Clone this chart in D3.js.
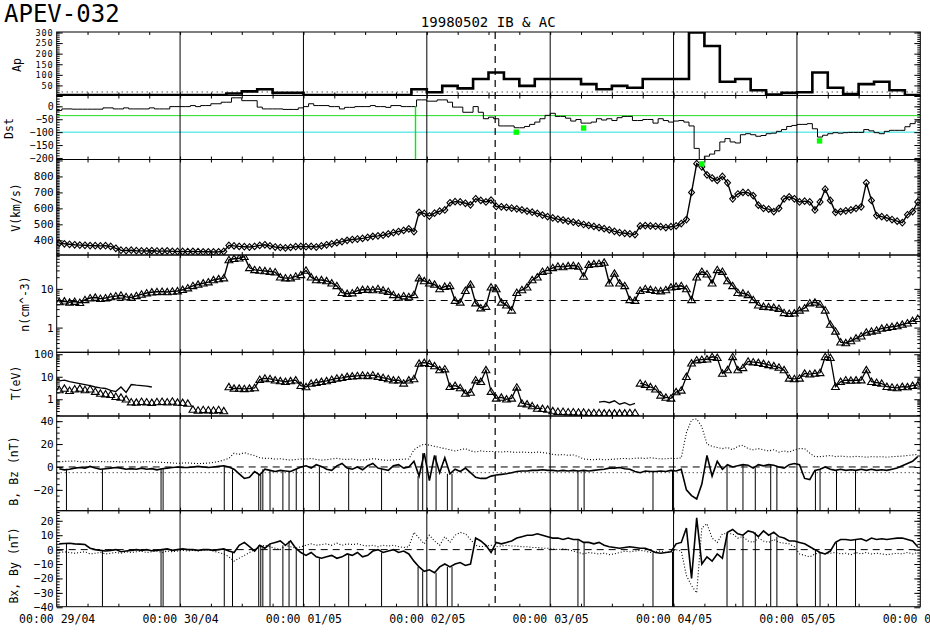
<!DOCTYPE html>
<html><head><meta charset="utf-8">
<script src="https://cdn.jsdelivr.net/npm/d3@7"></script>
<style>body{margin:0;background:#fff}svg{display:block}</style>
</head><body><svg id="c" width="930" height="640"></svg>
<script>
// ---------------- DATA ----------------
const dayLabels = ["29/04","30/04","01/05","02/05","03/05","04/05","05/05","06/05"];
// Ap, 3-hourly (56 values)
const apValues = [4,4,4,5,4,4,4,4,5,4,4, 12,22,32,15,15, 5,5,4,5,5,4,5,
  32,18,48,36,80,111,80,48,80,80,80,56,32,48,39,80,80,80,300,236,67,80,27,7,15,18,111,39,9,56,67,27,5];
const apRef = 19;
// Dst, hourly (168 values)
const dstValues = [
-16,-10,-10,-11,-11,-11,-11,-11,-11,-6, -6,-10,-10,-6,-10,-10,-10,-10,-6,-10,
-10,-10,-1,-1,-1,-1,3,-1,3,3, 10,10,16,16,33,33,22,22,22,-3,
-10,-10,-10,-10,-12,-12,-12,-6,-1,10, 3,3,3,-1,-1,-10,-4,-4,-1,-1,
-1,3,-1,-1,-4,3,3,-1,-1,-1, 25,25,20,20,25,25,16,-3,-3,-23,
-23,-1,-23,-48,-42,-48,-76,-76,-76,-83, -83,-78,-70,-61,-48,-35,-27,-39,-39,-46,
-57,-51,-65,-65,-61,-48,-53,-48,-55,-44, -39,-39,-55,-55,-51,-51,-65,-48,-55,-61,
-57,-55,-61,-76,-163,-220,-193,-185,-172,-138, -125,-138,-142,-110,-106,-110,-116,-113,-106,-104,
-97,-90,-78,-74,-70,-70,-67,-87,-119,-112, -106,-102,-104,-102,-101,-101,-101,-90,-95,-102,
-106,-97,-93,-93,-93,-79,-67,-57];
const dstLevels = [-36, -100];
const dstMinTimes = [89.4, 102.5, 125.5, 148.4];
const dstMinValues = [-100, -84, -223, -134];
const eventTime = 69.8;      // green vertical line
const markerTime = 85.3;     // dashed vertical line
// Solar wind speed, hourly
const vValues = [
382,378,375,372,370,369,367,366,365,366, 362,350,338,336,338,335,334,333,335,333,
332,334,331,330,330,329,331,329,328,328, 327,328,330,368,365,362,360,358,362,368,
372,365,358,355,352,356,360,362,360,362, 358,365,372,378,385,392,400,405,408,412,
418,425,428,432,440,448,455,462,472,455, 575,568,552,570,582,590,635,642,640,632,
622,660,650,640,652,612,610,606,602,597, 590,583,576,568,558,548,540,533,527,520,
514,507,499,493,487,480,473,465,456,448, 444,440,436,490,492,490,488,485,480,485,
490,505,530,700,880,860,810,790,775,800, 760,660,690,700,698,680,620,600,595,580,
600,660,672,660,640,645,640,590,640,720, 650,575,580,585,590,600,610,760,650,555,
548,540,530,520,510,560,580,640];
// Density, hourly
const nValues = [
4.6,4.8,4.5,4.7,4.4,5.2,5.8,6.0,5.6,5.8, 6.2,6.5,6.8,6.2,6.0,6.6,7.2,7.8,8.2,8.4,
8.5,8.3,8.6,8.8,9.5,10.5,12,13,14,15, 17,18,19,56,60,62,68,35,31,30,
29,28,27,20,19,19,21,23,30,20, 17,17,16,14,12,8,7.5,7.8,9,9.5,
9.6,9.4,10,9.2,8.5,7,6,6.5,6.2,7, 19,16,14,13,10,11.5,12,5,4.5,9,
13,4.3,3.2,3.5,11,10,4.5,3.8,2.8,8, 9.4,11,17,20,28,30,35,38,37,39,
40,38,21,42,44,45,48,14,25,14, 12,5.2,5.0,9,10,9.5,9,8.8,9.4,11,
11.5,12,10,5.2,20,28,24,14,31,28, 16,12,8,7.7,7,5.2,3.8,3.5,3.4,3.3,
3.1,2.4,2.3,2.35,2.8,3.2,4.3,4.5,4.0,2.8, 1.2,0.8,0.42,0.40,0.45,0.53,0.6,0.75,0.8,0.85,
0.95,1.0,1.05,1.1,1.2,1.3,1.5,1.7];
const nRef = 5;
// Temperature, hourly (triangles)
const tValues = [
2.6,3.0,2.4,2.8,3.0,2.6,2.8,2.2,1.8,1.7, 1.6,1.3,1.2,1.0,0.75,0.72,0.78,0.75,0.7,0.76,
0.78,0.74,0.8,0.72,0.7,0.65,0.35,0.32,0.34,0.33, 0.32,0.34,0.3,3.5,3.0,3.0,2.9,3.0,3.2,7.5,
8.5,8.0,7.0,6.5,6.0,6.5,7.0,4.0,3.5,5.0, 5.5,6.0,6.5,7.5,8.5,9.0,10,10.5,11,11.5,
11,11.8,10,9,8,7,7.1,5.1,7,8, 39,42,38,30,20,22,3.6,4,3.2,1.8,
2.0,7.1,6,20,2.2,1.1,1.2,1.0,1.1,3.4, 0.66,0.6,0.5,0.39,0.38,0.35,0.3,0.28,0.28,0.27,
0.27,0.26,0.26,0.25,0.25,0.25,0.24,0.24,0.24,0.24, 0.24,0.25,0.25,5.1,4.5,3.5,2.8,1.5,1.2,1.1,
2.1,2.5,10,40,55,58,60,77,70,14, 20,77,20,25,48,45,42,38,34,30,
26,20,8.5,8,8.5,14,13,14,15,77, 70,3.6,6,7.1,6.8,7,7.1,20,6,5.5,
5,3.6,3.4,3.2,3.6,3.5,4,4.2];
// second (line) temperature where it differs from triangles
const tLineEarly = [6.5,7.0,6.0,5.5,5.0,4.5,4.0,3.5,3.2,3.0,2.5,2.2,3.5,2.0,4.5,4.2,4.0,3.8,3.5]; // h0..h18
const tLineFragStart = 105;
const tLineFrag = [0.75,0.8,0.7,0.85,0.6,0.7,0.55,0.65]; // h105..h112
const tLineSpans = [[33,94],[113,167]];
// Magnetic field, hourly
const bValues = [
4.5,4.8,5.0,5.2,4.6,4.4,4.8,5.0,4.7,4.5, 4.6,4.8,4.2,4.5,4.6,4.3,4.4,4.6,4.5,4.2,
4.0,3.8,3.5,3.2,3.4,3.6,3.2,3.0,3.1,3.4, 4.0,4.8,6.0,7.5,12,11,12.5,11,10,8,
7.5,7.6,6.8,7.2,6.5,6.0,6.5,7.0,6.8,7.5, 6.5,6.0,6.3,7.0,7.5,6.8,6.5,7.0,6.2,6.0,
6.5,7.2,6.8,6.0,5.8,6.2,6.5,6.8,7.0,15, 18,20,19,18,17,16,15,14,15,16,
14,13,14,13.5,13.5,13.5,13,13.5,13,12.8, 13,12.8,12.5,13,12.6,12,11,10.5,10.8,10.2,
10.5,9,7,6.5,6.3,6.8,6.2,6.5,6.8,7.2, 7.5,7.0,7.6,7.8,7.4,8.0,7.5,7.0,7.2,7.5,
7.3,8,30,41,42,35,20,18,17,16, 17,15,18,19,16,15,16,15,14,15,
13,14,13,15,16,16,12,9,9,9.5, 10,9,9.5,9,8.8,9.2,9,8.5,9,8.8,
9,8.5,9,9.2,9.5,10,10.5,11];
const bzValues = [
-1.5,-2.5,-2,-1,-0.5,-1,0.5,-1,-2,-1.5, -1,-0.5,-1,-2,-1.5,-2,-1,-2,-1.5,-2.5,
-1.5,-1,-0.5,0,-0.5,-0.5,0,0.5,0,-0.5, 0,0.5,1,0,-2,-6,-10,-9,-4,-7,
-2,-3,-4,-3,-3.5,-4,-2,0,1,-1, 2,0.5,-2,-3,1,3,-1,-2,0,-2.5,
1,3,-1,-2,-3,1,2,-1,0,5, -8,12,-12,10,-5,8,-6,-2,-4,-1,
-5,-9,-10,-10,-8,-7,-6.5,-6,-5,-4, -3.5,-3.5,-3,-3,-2.5,-3,-3,-3.5,-3,-3.5,
-3,-3.5,-3,-3.5,-3,-2.5,-2,-1,-1,-0.5, -1.5,-2,-4,-5,-3.5,-4,-4,-3.5,-4,-3,
-3.5,-2,-20,-25,-28,-15,10,-8,5,-2, 2,0,1,2,1.5,-1,2,1,2,1.5,
0,-1,2,3,2,-10,-11,-3,-2,0, -2,-3,-2,-3,-2.5,-3,-2,-3,-2,-3,
-2.5,-3,-2,-1,1,3,5,9];
const bxValues = [
4,4.2,4.4,4,3.8,3.5,1,0,-0.5,-1, -0.5,0,-1.5,-1,-0.5,0,-0.5,0,-0.8,-0.5,
0,0.5,-0.5,0,0.5,0,0,-0.5,0,0, -0.5,0,0.5,-1,-2,3,5,2,-1,3,
1,4,5,6,3,6,1,-2,-4,-2, -5,-6,-5,-4,-6,-5,-3,-4,-2,-5,
-4,-1,0,-2,-1,0,-2,-1,-3,-8, -12,-15,-14,-16,-12,-10,-12,-10,-9,-11,
-10,8,6,3,-2,5,4,5,6,8, 9,10,10,11,10,9,8,8,7,8,
7,7,5,5,4,5,3,2,1.5,1, 1.5,2,1.5,1,1,-0.5,-2,-2.5,-2,-1.5,
4,5,15,-20,22,-10,-5,-8,-3,-6, 12,14,11,10,13,12,9,13,10,12,
9,8,6,6,5,4,2,0,-2,-3, -1,5,7,7,6.5,7,7.5,6,8,7,
7.5,7,7.5,8,8,7,6,2];
const byValues = [
-2,-1.5,-2,-2.5,-2,-1.5,-3,-2.5,-2,-3, -2.5,-2,-2.5,-1.5,-2,-1.5,-1,-2,-1.5,-1,
-2,-1,-1.5,-1,-0.5,-1,-0.5,-1,-0.5,0, -1,-2,-3,-5,-8,-6,-4,-2,0,2,
3,2,1,0,3,2,1,2,3,4, 3,3.5,4,3,4.5,3,4,3.5,4,3,
2.5,3,2,3,2.5,3,2,1.5,2,12, 8,4,10,6,3,9,5,10,12,11,
7,3,2,2.5,3,2,2.5,3,2.5,2.5, 2,2,1.5,1.5,1,1,0.5,0,0.5,0,
-1,-2,-3,-2,-2.5,-3,-2.5,-3.5,-3,-2, -1,-1.5,-1,-0.5,-1,-2,-1.5,-1,-2,-1.5,
0,-1,-18,-25,-30,15,18,8,5,11, 11,11,8,9,6,5,8,6,5,7,
5,4.5,4,2,-3,-4,-5,-3,-2,-3, -2.5,-2,-3,-2.5,-3.5,-2,-3,-2,-3,-2.5,
-3,-3.5,-3,-2.5,-3,-2,-3,-2];
const bRefLevels = [0, -5];
// times (hours) of data-gap spikes in the field panels
const gapTimes = [1.9,8.9,20.3,20.7,32.6,34.2,39.3,39.7,40.1,41.5,44.0,45.2,46.6,51.1,56.8,63.2,
  70.3,71.2,73.8,76.0,76.9,101.4,102.6,116.0,119.8,130.4,133.5,135.9,138.9,140.1,147.6,148.5,151.7,155.4];

// ---------------- CHART ----------------
const svg = d3.select('#c');
const MONO = "'DejaVu Sans Mono', monospace";
const X0 = 56.7, X1 = 920.3;
const x = d3.scaleLinear().domain([0,168]).range([X0,X1]);

const P = {
  ap:  {top:32,    bot:95.5},
  dst: {top:95.5,  bot:159.5},
  v:   {top:159.5, bot:255},
  n:   {top:255,   bot:352.3},
  t:   {top:352.3, bot:416},
  b:   {top:416,   bot:510.7},
  bxy: {top:510.7, bot:606.7}
};
const yAp  = d3.scaleLinear().domain([0,300]).range([96,32.5]);
const yDst = d3.scaleLinear().domain([-206,42]).range([159.5,95.5]);
const yV   = d3.scaleLinear().domain([308,906]).range([255,159.5]);
const yN   = d3.scaleLog().domain([0.23,75]).range([352.3,255]);
const yT   = d3.scaleLog().domain([0.18,122]).range([416,352.3]);
const yB   = d3.scaleLinear().domain([-38.2,44.5]).range([510.7,416]);
const yBxy = d3.scaleLinear().domain([-39.6,27]).range([606.7,510.7]);

svg.append('rect').attr('width',930).attr('height',640).attr('fill','#fff');
const defs = svg.append('defs');
Object.entries(P).forEach(([k,p]) => {
  defs.append('clipPath').attr('id','clip-'+k).append('rect')
    .attr('x',X0).attr('y',p.top).attr('width',X1-X0).attr('height',p.bot-p.top);
});
const layer = k => svg.append('g').attr('clip-path','url(#clip-'+k+')');

// ---- Ap ----
const gAp = layer('ap');
gAp.append('line').attr('x1',X0).attr('x2',X1).attr('y1',yAp(apRef)).attr('y2',yAp(apRef))
  .attr('stroke','#000').attr('stroke-dasharray','1,4');
const apPts = apValues.map((v,i)=>[i*3,v]).concat([[168,apValues[apValues.length-1]]]);
gAp.append('path').attr('d', d3.line().curve(d3.curveStepAfter).x(d=>x(d[0])).y(d=>yAp(d[1]))(apPts))
  .attr('fill','none').attr('stroke','#000').attr('stroke-width',2.6);

// ---- Dst ----
const gDst = layer('dst');
gDst.append('line').attr('x1',X0).attr('x2',X1).attr('y1',yDst(dstLevels[0])).attr('y2',yDst(dstLevels[0]))
  .attr('stroke','#22dd22').attr('stroke-width',1);
gDst.append('line').attr('x1',X0).attr('x2',x(167.4)).attr('y1',yDst(dstLevels[1])).attr('y2',yDst(dstLevels[1]))
  .attr('stroke','#22e0e0').attr('stroke-width',1);
const dstPts = dstValues.map((v,i)=>[i,v]).concat([[168,dstValues[167]]]);
gDst.append('path').attr('d', d3.line().curve(d3.curveStepAfter).x(d=>x(d[0])).y(d=>yDst(d[1]))(dstPts))
  .attr('fill','none').attr('stroke','#000').attr('stroke-width',1);
gDst.append('line').attr('x1',x(eventTime)).attr('x2',x(eventTime)).attr('y1',yDst(0)).attr('y2',P.dst.bot)
  .attr('stroke','#00ee00').attr('stroke-width',1.4);

// ---- V ----
const diamond = "M0,-3.3L3,0L0,3.3L-3,0Z";
const tri = "M0,-3.6L3.9,2.8L-3.9,2.8Z";
const gV = layer('v');
gV.append('path').attr('d', d3.line().x((d,i)=>x(i+0.5)).y(d=>yV(d))(vValues))
  .attr('fill','none').attr('stroke','#000').attr('stroke-width',1.4);
gV.selectAll('path.m').data(vValues).join('path').attr('class','m')
  .attr('transform',(d,i)=>`translate(${x(i+0.5)},${yV(d)})`).attr('d',diamond)
  .attr('fill','none').attr('stroke','#000').attr('stroke-width',1.1);

// ---- n ----
const gN = layer('n');
gN.append('line').attr('x1',X0).attr('x2',X1).attr('y1',yN(nRef)).attr('y2',yN(nRef))
  .attr('stroke','#000').attr('stroke-dasharray','7,5');
gN.append('path').attr('d', d3.line().x((d,i)=>x(i+0.5)).y(d=>yN(d))(nValues))
  .attr('fill','none').attr('stroke','#000').attr('stroke-width',1.4);
gN.selectAll('path.m').data(nValues).join('path').attr('class','m')
  .attr('transform',(d,i)=>`translate(${x(i+0.5)},${yN(d)})`).attr('d',tri)
  .attr('fill','none').attr('stroke','#000').attr('stroke-width',1.1);

// ---- T ----
const gT = layer('t');
const tLine = d3.line().x(d=>x(d[0]+0.5)).y(d=>yT(d[1]));
gT.append('path').attr('d', tLine(tLineEarly.map((v,i)=>[i,v])))
  .attr('fill','none').attr('stroke','#000').attr('stroke-width',1.3);
gT.append('path').attr('d', tLine(tLineFrag.map((v,i)=>[tLineFragStart+i,v])))
  .attr('fill','none').attr('stroke','#000').attr('stroke-width',1.3);
tLineSpans.forEach(([a,b]) => {
  gT.append('path').attr('d', tLine(d3.range(a,b+1).map(i=>[i,tValues[i]])))
    .attr('fill','none').attr('stroke','#000').attr('stroke-width',1.3);
});
gT.selectAll('path.m').data(tValues).join('path').attr('class','m')
  .attr('transform',(d,i)=>`translate(${x(i+0.5)},${yT(d)})`).attr('d',tri)
  .attr('fill','none').attr('stroke','#000').attr('stroke-width',1.1);

// ---- B, Bz ----
const gB = layer('b');
gB.append('line').attr('x1',X0).attr('x2',X1).attr('y1',yB(bRefLevels[0])).attr('y2',yB(bRefLevels[0]))
  .attr('stroke','#000').attr('stroke-dasharray','7,5');
gB.append('line').attr('x1',X0).attr('x2',X1).attr('y1',yB(bRefLevels[1])).attr('y2',yB(bRefLevels[1]))
  .attr('stroke','#000').attr('stroke-dasharray','1,3');
gB.append('path').attr('d', d3.line().x((d,i)=>x(i+0.5)).y(d=>yB(d))(bValues))
  .attr('fill','none').attr('stroke','#000').attr('stroke-width',1.1).attr('stroke-dasharray','1,2');
gB.append('path').attr('d', d3.line().x((d,i)=>x(i+0.5)).y(d=>yB(d))(bzValues))
  .attr('fill','none').attr('stroke','#000').attr('stroke-width',1.6);
gB.selectAll('line.gap').data(gapTimes).join('line').attr('class','gap')
  .attr('x1',d=>x(d)).attr('x2',d=>x(d)).attr('y1',d=>yB(bzValues[Math.min(167,Math.floor(d))])).attr('y2',P.b.bot)
  .attr('stroke','#000').attr('stroke-width',1);

// ---- Bx, By ----
const gX = layer('bxy');
gX.append('line').attr('x1',X0).attr('x2',X1).attr('y1',yBxy(0)).attr('y2',yBxy(0))
  .attr('stroke','#000').attr('stroke-dasharray','7,5');
gX.append('path').attr('d', d3.line().x((d,i)=>x(i+0.5)).y(d=>yBxy(d))(byValues))
  .attr('fill','none').attr('stroke','#000').attr('stroke-width',1.1).attr('stroke-dasharray','1,2');
gX.append('path').attr('d', d3.line().x((d,i)=>x(i+0.5)).y(d=>yBxy(d))(bxValues))
  .attr('fill','none').attr('stroke','#000').attr('stroke-width',1.6);
gX.selectAll('line.gap').data(gapTimes).join('line').attr('class','gap')
  .attr('x1',d=>x(d)).attr('x2',d=>x(d)).attr('y1',d=>yBxy(bxValues[Math.min(167,Math.floor(d))])).attr('y2',P.bxy.bot)
  .attr('stroke','#000').attr('stroke-width',1);

// ---- grid, borders ----
const grid = svg.append('g');
d3.range(24,168,24).forEach(h => {
  grid.append('line').attr('x1',x(h)).attr('x2',x(h)).attr('y1',P.ap.top).attr('y2',P.bxy.bot)
    .attr('stroke','#000').attr('stroke-width',1);
});
grid.append('line').attr('x1',x(markerTime)).attr('x2',x(markerTime)).attr('y1',P.ap.top).attr('y2',P.bxy.bot)
  .attr('stroke','#000').attr('stroke-width',1.2).attr('stroke-dasharray','7,5');
Object.values(P).forEach(p => {
  grid.append('rect').attr('x',X0).attr('y',p.top).attr('width',X1-X0).attr('height',p.bot-p.top)
    .attr('fill','none').attr('stroke','#000').attr('stroke-width',1);
});

// ---- green Dst minimum markers ----
svg.append('g').selectAll('rect').data(dstMinTimes).join('rect')
  .attr('x',(d)=>x(d)-2.7).attr('y',(d,i)=>yDst(dstMinValues[i])-2.7).attr('width',5.4).attr('height',5.4)
  .attr('fill','#00ff00');

// ---- axes ----
function styleAxis(g){ g.select('.domain').remove(); g.selectAll('text').attr('font-family',MONO).attr('font-size','11px').attr('fill','#000'); g.selectAll('line').attr('stroke','#000'); }
function yAxes(scale, majors, minors, labels, fmt, fs, ls){
  svg.append('g').attr('transform',`translate(${X0},0)`)
    .call(d3.axisLeft(scale).tickValues(minors).tickSize(-3).tickFormat('')).call(styleAxis);
  svg.append('g').attr('transform',`translate(${X0},0)`)
    .call(d3.axisLeft(scale).tickValues(majors).tickSize(-6).tickPadding(3)
      .tickFormat(d => labels.includes(d) ? fmt(d) : '')).call(styleAxis)
    .call(g => g.selectAll('text').attr('font-size',(fs||11)+'px').attr('letter-spacing',(ls||0)+'px'));
  svg.append('g').attr('transform',`translate(${X1},0)`)
    .call(d3.axisRight(scale).tickValues(minors).tickSize(-3).tickFormat('')).call(styleAxis);
  svg.append('g').attr('transform',`translate(${X1},0)`)
    .call(d3.axisRight(scale).tickValues(majors).tickSize(-6).tickFormat('')).call(styleAxis);
}
const fmtInt = d => (d<0 ? '\u2212'+Math.abs(d) : String(d));
const logMinors = (lo,hi) => { const r=[]; for(let e=lo;e<=hi;e++) for(let m=2;m<=9;m++) r.push(m*Math.pow(10,e)); return r; };

yAxes(yAp, d3.range(0,301,50), d3.range(0,301,10), [50,100,150,200,250,300], fmtInt, 8.6, 0.9);
yAxes(yDst, d3.range(-200,41,50), d3.range(-200,41,10), [0,-50,-100,-150,-200], fmtInt, 10);
yAxes(yV, d3.range(400,901,100), d3.range(310,906,10), [400,500,600,700,800], fmtInt);
yAxes(yN, [1,10], logMinors(-1,1).filter(v=>v>=0.23&&v<=75), [1,10], d=>String(d));
yAxes(yT, [1,10,100], logMinors(-1,2).filter(v=>v>=0.18&&v<=122), [1,10,100], d=>String(d));
yAxes(yB, [-20,0,20,40], d3.range(-35,45,5), [-20,0,20,40], fmtInt);
yAxes(yBxy, [-40,-30,-20,-10,0,10,20], d3.range(-38,27,2), [-40,-30,-20,-10,0,10,20], fmtInt);

// x minor ticks on every panel edge
const xMinor = d3.range(6,168,6);
Object.values(P).forEach(p => {
  svg.append('g').attr('transform',`translate(0,${p.top})`)
    .call(d3.axisTop(x).tickValues(xMinor).tickSize(-3).tickFormat('')).call(styleAxis);
  svg.append('g').attr('transform',`translate(0,${p.bot})`)
    .call(d3.axisBottom(x).tickValues(xMinor).tickSize(-3).tickFormat('')).call(styleAxis);
});
// x labels
svg.append('g').attr('transform',`translate(0,${P.bxy.bot})`)
  .call(d3.axisBottom(x).tickValues(d3.range(0,169,24)).tickSize(0).tickPadding(8.6)
    .tickFormat((d,i)=>'00:00 '+dayLabels[i]))
  .call(styleAxis)
  .call(g => g.selectAll('text').attr('font-size','11.5px'));

// ---- axis titles ----
const yTitles = [
  ['Ap',17,65],['Dst',8.5,128.5],['V(km/s)',16,207.5],['n(cm^-3)',25,304],
  ['T(eV)',16,383],['B, Bz (nT)',14,471],['Bx, By (nT)',14,565.5]
];
yTitles.forEach(([t,cx,cy]) => {
  svg.append('text').text(t).attr('transform',`translate(${cx},${cy}) rotate(-90)`)
    .attr('text-anchor','middle').attr('dominant-baseline','central')
    .attr('font-family',MONO).attr('font-size','11.5px').attr('fill','#000');
});

// ---- titles ----
svg.append('text').text('APEV-032').attr('x',4).attr('y',21.7)
  .attr('font-family',MONO).attr('font-size','24px').attr('fill','#000');
svg.append('text').text('19980502 IB & AC').attr('x',488.3).attr('y',26.7).attr('text-anchor','middle')
  .attr('font-family',MONO).attr('font-size','14px').attr('fill','#000');
</script>
</body></html>
